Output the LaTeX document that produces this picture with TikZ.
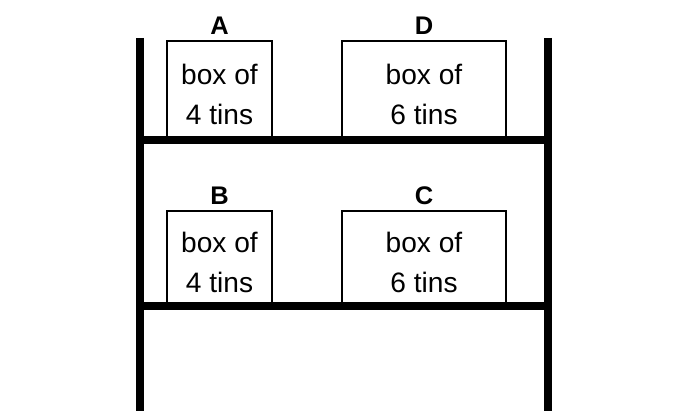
\documentclass[tikz,border=0pt]{standalone}
\usepackage{fontspec}
\setmainfont{Liberation Sans}
\usetikzlibrary{positioning}

\tikzset{
    tinbox/.style={draw, line width=1.1pt, anchor=south, align=center, inner sep=0pt,
        font=\fontsize{16}{22.7}\selectfont},
    tag/.style={inner sep=0pt, font=\fontsize{14.5}{16}\selectfont\bfseries}
}

\begin{document}
\begin{tikzpicture}
    \useasboundingbox (0,0) rectangle (13.68,8.22);

    % Boxes on the shelves
    \node[tinbox, minimum width=2.1cm, minimum height=1.96cm] (boxA) at (4.39,5.42) {\rule{0pt}{17pt}box of\\4 tins};
    \node[tinbox, minimum width=3.28cm, minimum height=1.96cm] (boxD) at (8.48,5.42) {\rule{0pt}{17pt}box of\\6 tins};
    \node[tinbox, minimum width=2.1cm, minimum height=1.88cm] (boxB) at (4.39,2.1) {\rule{0pt}{17pt}box of\\4 tins};
    \node[tinbox, minimum width=3.28cm, minimum height=1.88cm] (boxC) at (8.48,2.1) {\rule{0pt}{17pt}box of\\6 tins};

    % Letters
    \node[tag, above=0.1cm of boxA] (tagA) {A};
    \node[tag, above=0.1cm of boxD] (tagD) {D};
    \node[tag, above=0.1cm of boxB] (tagB) {B};
    \node[tag, above=0.1cm of boxC] (tagC) {C};

    % Posts and shelves
    \coordinate (postL) at (2.8,7.46);
    \coordinate (postR) at (10.96,7.46);
    \draw[line width=4.5pt] (postL) -- (2.8,0);
    \draw[line width=4.5pt] (postR) -- (10.96,0);
    \foreach \y in {5.42, 2.1} {
        \draw[line width=4.5pt] (2.8,\y) -- (10.96,\y);
    }
\end{tikzpicture}
\end{document}
